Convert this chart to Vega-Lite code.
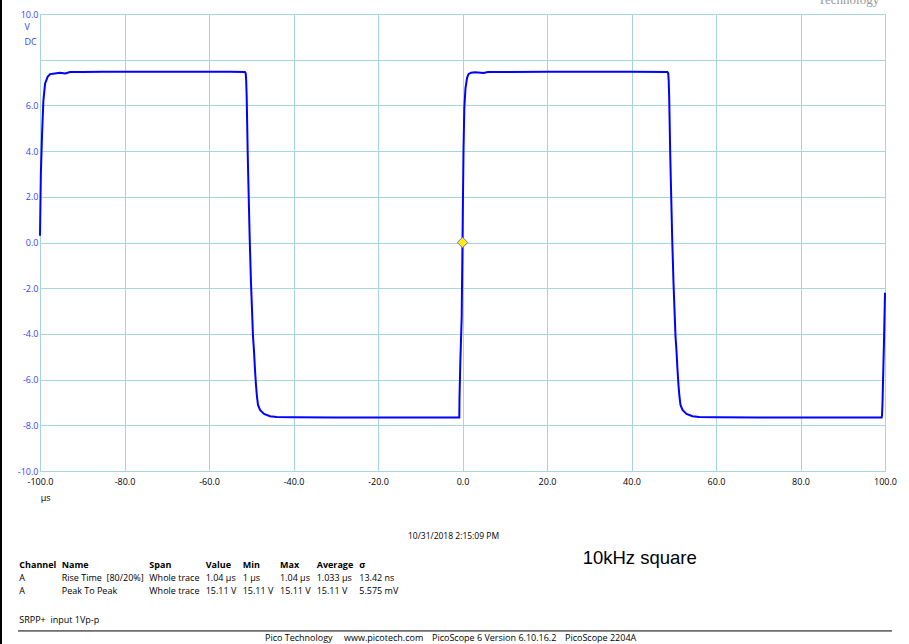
{
  "$schema": "https://vega.github.io/schema/vega-lite/v6.json",
  "width": 845,
  "height": 457,
  "autosize": {"type": "none"},
  "padding": {"left": 40, "top": 14, "right": 24, "bottom": 173},
  "background": "white",
  "config": {
    "locale": {"number": {"decimal": ".", "thousands": ",", "grouping": [3], "currency": ["$", ""], "minus": "-"}},
    "view": {"stroke": "#a7d5de", "strokeWidth": 1},
    "axis": {"grid": true, "gridColor": "#a7d5de", "gridOpacity": 1, "gridWidth": 1, "domain": false, "ticks": false, "labelFont": "Open Sans", "labelFontSize": 9, "title": null},
    "text": {"font": "Open Sans", "fontSize": 9, "color": "black"}
  },
  "datasets": {
    "trace": [
      {"t": -100, "v": 0.3}, {"t": -99.8, "v": 3.0}, {"t": -99.5, "v": 4.8}, {"t": -99.2, "v": 6.2}, {"t": -98.8, "v": 6.95},
      {"t": -98.2, "v": 7.25}, {"t": -97.6, "v": 7.37}, {"t": -96.5, "v": 7.4}, {"t": -95.3, "v": 7.43}, {"t": -94, "v": 7.4},
      {"t": -92.9, "v": 7.46}, {"t": -90, "v": 7.46}, {"t": -85, "v": 7.47}, {"t": -80, "v": 7.47}, {"t": -70, "v": 7.47},
      {"t": -60, "v": 7.47}, {"t": -55, "v": 7.47}, {"t": -51.5, "v": 7.46}, {"t": -51.31, "v": 7.4}, {"t": -51.2, "v": 7.1},
      {"t": -51.08, "v": 6.38}, {"t": -50.84, "v": 3.92}, {"t": -50.6, "v": 1.99}, {"t": -50.37, "v": 0.2}, {"t": -50.06, "v": -1.77},
      {"t": -49.82, "v": -2.95}, {"t": -49.59, "v": -4.09}, {"t": -49.35, "v": -4.75}, {"t": -49.11, "v": -5.58}, {"t": -48.88, "v": -6.24},
      {"t": -48.64, "v": -6.76}, {"t": -48.4, "v": -7.11}, {"t": -47.93, "v": -7.33}, {"t": -46.98, "v": -7.5}, {"t": -45.56, "v": -7.6},
      {"t": -44, "v": -7.64}, {"t": -40, "v": -7.65}, {"t": -30, "v": -7.66}, {"t": -20, "v": -7.66}, {"t": -10, "v": -7.66},
      {"t": -0.8, "v": -7.66}, {"t": -0.76, "v": -7.66}, {"t": -0.71, "v": -6.81}, {"t": -0.52, "v": -5.27}, {"t": -0.19, "v": -3.26},
      {"t": 0.0, "v": 0.0}, {"t": 0.09, "v": 1.64}, {"t": 0.24, "v": 4.05}, {"t": 0.43, "v": 5.89}, {"t": 0.71, "v": 6.76},
      {"t": 1.07, "v": 7.2}, {"t": 1.42, "v": 7.37}, {"t": 2.01, "v": 7.43}, {"t": 2.96, "v": 7.45}, {"t": 5, "v": 7.42},
      {"t": 6, "v": 7.46}, {"t": 10, "v": 7.46}, {"t": 20, "v": 7.47}, {"t": 30, "v": 7.47}, {"t": 40, "v": 7.47},
      {"t": 48.5, "v": 7.46}, {"t": 48.69, "v": 7.4}, {"t": 48.8, "v": 7.1}, {"t": 48.92, "v": 6.38}, {"t": 49.16, "v": 3.92},
      {"t": 49.4, "v": 1.99}, {"t": 49.63, "v": 0.2}, {"t": 49.94, "v": -1.77}, {"t": 50.18, "v": -2.95}, {"t": 50.41, "v": -4.09},
      {"t": 50.65, "v": -4.75}, {"t": 50.89, "v": -5.58}, {"t": 51.12, "v": -6.24}, {"t": 51.36, "v": -6.76}, {"t": 51.6, "v": -7.11},
      {"t": 52.07, "v": -7.33}, {"t": 53.02, "v": -7.5}, {"t": 54.44, "v": -7.6}, {"t": 56, "v": -7.64}, {"t": 60, "v": -7.65},
      {"t": 70, "v": -7.66}, {"t": 80, "v": -7.66}, {"t": 90, "v": -7.66}, {"t": 99.2, "v": -7.66}, {"t": 99.29, "v": -7.58},
      {"t": 99.4, "v": -7.1}, {"t": 99.53, "v": -6.1}, {"t": 99.76, "v": -4.34}, {"t": 100, "v": -2.2}
    ],
    "trigger": [{"t": 0, "v": 0}],
    "unit": [{"t": -103.67, "v": 9.42, "label": "V"}, {"t": -103.67, "v": 8.79, "label": "DC"}],
    "xunit": [{"t": -99.83, "v": -11.18, "label": "µs"}],
    "logo": [{"t": 84.14, "v": 10.44, "label": "Technology"}],
    "date": [{"t": -2.13, "v": -12.83, "label": "10/31/2018 2:15:09 PM"}],
    "note": [{"t": 28.44, "v": -13.81, "label": "10kHz square"}],
    "header": [
      {"t": -104.9, "v": -14.1, "label": "Channel"}, {"t": -94.86, "v": -14.1, "label": "Name"},
      {"t": -74.13, "v": -14.1, "label": "Span"}, {"t": -60.78, "v": -14.1, "label": "Value"},
      {"t": -52.02, "v": -14.1, "label": "Min"}, {"t": -43.2, "v": -14.1, "label": "Max"},
      {"t": -34.51, "v": -14.1, "label": "Average"}, {"t": -24.43, "v": -14.1, "label": "σ"}
    ],
    "body": [
      {"t": -104.9, "v": -14.69, "label": "A"}, {"t": -94.86, "v": -14.69, "label": "Rise Time \u00a0[80/20%]"},
      {"t": -74.13, "v": -14.69, "label": "Whole trace"}, {"t": -60.78, "v": -14.69, "label": "1.04 µs"},
      {"t": -52.02, "v": -14.69, "label": "1 µs"}, {"t": -43.2, "v": -14.69, "label": "1.04 µs"},
      {"t": -34.51, "v": -14.69, "label": "1.033 µs"}, {"t": -24.43, "v": -14.69, "label": "13.42 ns"},
      {"t": -104.9, "v": -15.26, "label": "A"}, {"t": -94.86, "v": -15.26, "label": "Peak To Peak"},
      {"t": -74.13, "v": -15.26, "label": "Whole trace"}, {"t": -60.78, "v": -15.26, "label": "15.11 V"},
      {"t": -52.02, "v": -15.26, "label": "15.11 V"}, {"t": -43.2, "v": -15.26, "label": "15.11 V"},
      {"t": -34.51, "v": -15.26, "label": "15.11 V"}, {"t": -24.43, "v": -15.26, "label": "5.575 mV"},
      {"t": -104.9, "v": -16.52, "label": "SRPP+ \u00a0input 1Vp-p"},
      {"t": -46.75, "v": -17.32, "label": "Pico Technology"}, {"t": -28.05, "v": -17.32, "label": "www.picotech.com"},
      {"t": -7.22, "v": -17.32, "label": "PicoScope 6 Version 6.10.16.2"}, {"t": 24.26, "v": -17.32, "label": "PicoScope 2204A"}
    ],
    "sep": [{"t": -105.21, "t2": 101.66, "v": -17.0}],
    "edge": [{"t": -109.23, "v": 10.61, "v2": -17.57}]
  },
  "layer": [
    {
      "data": {"name": "trace"},
      "mark": {"type": "line", "color": "#0000ff", "strokeWidth": 2},
      "encoding": {
        "x": {"field": "t", "type": "quantitative", "title": null,
              "scale": {"domain": [-100, 100], "nice": false, "zero": false},
              "axis": {"values": [-100, -80, -60, -40, -20, 0, 20, 40, 60, 80, 100], "format": ".1f", "labelFlush": false, "labelPadding": 6, "labelColor": "black", "labelOverlap": false}},
        "y": {"field": "v", "type": "quantitative", "title": null,
              "scale": {"domain": [-10, 10], "nice": false, "zero": false},
              "axis": {"values": [-10, -8, -6, -4, -2, 0, 2, 4, 6, 8, 10], "labelExpr": "datum.value == 8 ? '' : format(datum.value, '.1f')", "labelFlush": false, "labelPadding": 2, "labelColor": "#3c3cff", "labelOverlap": false}}
      }
    },
    {
      "data": {"name": "trigger"},
      "mark": {"type": "point", "shape": "diamond", "filled": true, "fill": "#ffee00", "stroke": "#6a6aff", "strokeWidth": 1, "size": 110, "opacity": 1},
      "encoding": {
        "x": {"field": "t", "type": "quantitative", "title": null, "scale": {"domain": [-100, 100], "nice": false, "zero": false}},
        "y": {"field": "v", "type": "quantitative", "title": null, "scale": {"domain": [-10, 10], "nice": false, "zero": false}}
      }
    },
    {
      "data": {"name": "unit"},
      "mark": {"type": "text", "align": "left", "baseline": "middle", "color": "#3c3cff", "fontSize": 9},
      "encoding": {
        "x": {"field": "t", "type": "quantitative", "title": null, "scale": {"domain": [-100, 100], "nice": false, "zero": false}},
        "y": {"field": "v", "type": "quantitative", "title": null, "scale": {"domain": [-10, 10], "nice": false, "zero": false}},
        "text": {"field": "label"}
      }
    },
    {
      "data": {"name": "xunit"},
      "mark": {"type": "text", "align": "left", "baseline": "middle", "fontSize": 9},
      "encoding": {
        "x": {"field": "t", "type": "quantitative", "title": null, "scale": {"domain": [-100, 100], "nice": false, "zero": false}},
        "y": {"field": "v", "type": "quantitative", "title": null, "scale": {"domain": [-10, 10], "nice": false, "zero": false}},
        "text": {"field": "label"}
      }
    },
    {
      "data": {"name": "logo"},
      "mark": {"type": "text", "align": "left", "baseline": "alphabetic", "font": "Liberation Serif", "fontSize": 13, "color": "#999999"},
      "encoding": {
        "x": {"field": "t", "type": "quantitative", "title": null, "scale": {"domain": [-100, 100], "nice": false, "zero": false}},
        "y": {"field": "v", "type": "quantitative", "title": null, "scale": {"domain": [-10, 10], "nice": false, "zero": false}},
        "text": {"field": "label"}
      }
    },
    {
      "data": {"name": "date"},
      "mark": {"type": "text", "align": "center", "baseline": "middle", "fontSize": 8.5},
      "encoding": {
        "x": {"field": "t", "type": "quantitative", "title": null, "scale": {"domain": [-100, 100], "nice": false, "zero": false}},
        "y": {"field": "v", "type": "quantitative", "title": null, "scale": {"domain": [-10, 10], "nice": false, "zero": false}},
        "text": {"field": "label"}
      }
    },
    {
      "data": {"name": "note"},
      "mark": {"type": "text", "align": "left", "baseline": "middle", "font": "Liberation Sans", "fontSize": 18.5},
      "encoding": {
        "x": {"field": "t", "type": "quantitative", "title": null, "scale": {"domain": [-100, 100], "nice": false, "zero": false}},
        "y": {"field": "v", "type": "quantitative", "title": null, "scale": {"domain": [-10, 10], "nice": false, "zero": false}},
        "text": {"field": "label"}
      }
    },
    {
      "data": {"name": "header"},
      "mark": {"type": "text", "align": "left", "baseline": "middle", "fontWeight": "bold", "fontSize": 9},
      "encoding": {
        "x": {"field": "t", "type": "quantitative", "title": null, "scale": {"domain": [-100, 100], "nice": false, "zero": false}},
        "y": {"field": "v", "type": "quantitative", "title": null, "scale": {"domain": [-10, 10], "nice": false, "zero": false}},
        "text": {"field": "label"}
      }
    },
    {
      "data": {"name": "body"},
      "mark": {"type": "text", "align": "left", "baseline": "middle", "fontSize": 9},
      "encoding": {
        "x": {"field": "t", "type": "quantitative", "title": null, "scale": {"domain": [-100, 100], "nice": false, "zero": false}},
        "y": {"field": "v", "type": "quantitative", "title": null, "scale": {"domain": [-10, 10], "nice": false, "zero": false}},
        "text": {"field": "label"}
      }
    },
    {
      "data": {"name": "sep"},
      "mark": {"type": "rule", "color": "black", "strokeWidth": 1},
      "encoding": {
        "x": {"field": "t", "type": "quantitative", "title": null, "scale": {"domain": [-100, 100], "nice": false, "zero": false}},
        "x2": {"field": "t2"},
        "y": {"field": "v", "type": "quantitative", "title": null, "scale": {"domain": [-10, 10], "nice": false, "zero": false}}
      }
    },
    {
      "data": {"name": "edge"},
      "mark": {"type": "rule", "color": "black", "strokeWidth": 2},
      "encoding": {
        "x": {"field": "t", "type": "quantitative", "title": null, "scale": {"domain": [-100, 100], "nice": false, "zero": false}},
        "y": {"field": "v", "type": "quantitative", "title": null, "scale": {"domain": [-10, 10], "nice": false, "zero": false}},
        "y2": {"field": "v2"}
      }
    }
  ]
}
